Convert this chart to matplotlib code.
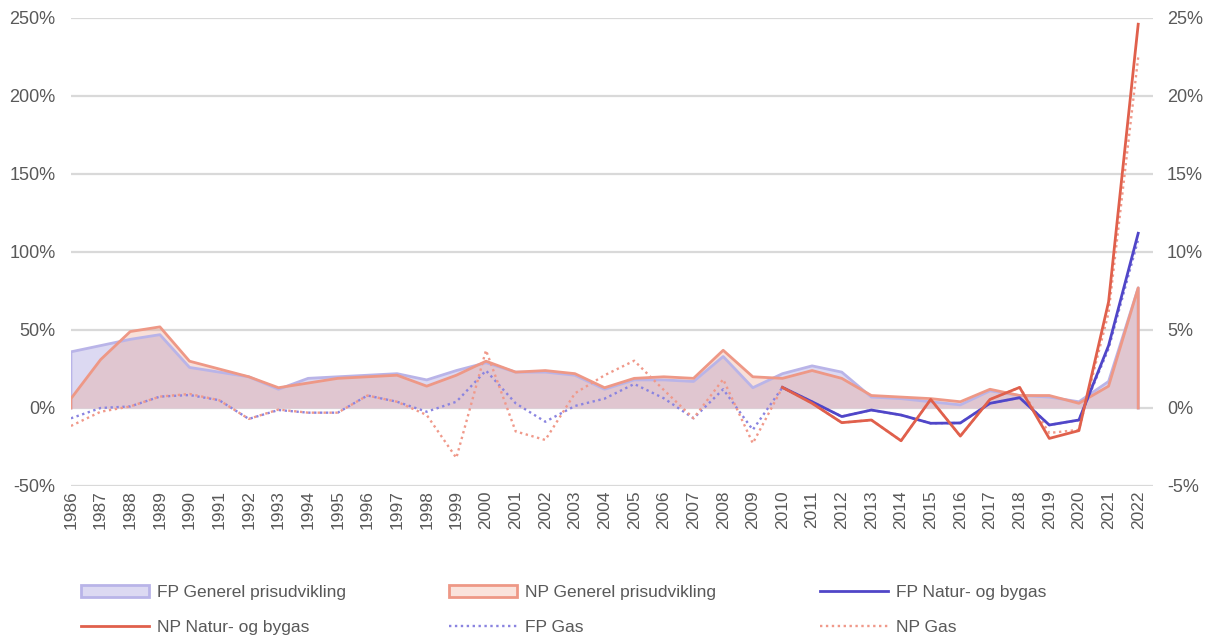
import matplotlib
matplotlib.use("Agg")
import matplotlib.pyplot as plt
from matplotlib.patches import Patch
from matplotlib.lines import Line2D
from matplotlib.ticker import FuncFormatter

plt.rcParams["font.family"] = ["Liberation Sans", "DejaVu Sans"]

years = list(range(1986, 2023))
natur_years = list(range(2010, 2023))

# general price development, right axis (%)
fp_generel = [3.6, 4.0, 4.4, 4.7, 2.6, 2.3, 2.0, 1.2, 1.9, 2.0, 2.1, 2.2, 1.8,
              2.4, 2.9, 2.3, 2.3, 2.1, 1.2, 1.8, 1.8, 1.7, 3.3, 1.3, 2.2, 2.7,
              2.3, 0.7, 0.6, 0.4, 0.2, 1.1, 0.8, 0.7, 0.4, 1.7, 7.7]
np_generel = [0.6, 3.1, 4.9, 5.2, 3.0, 2.5, 2.0, 1.3, 1.6, 1.9, 2.0, 2.1, 1.4,
              2.1, 3.0, 2.3, 2.4, 2.2, 1.3, 1.9, 2.0, 1.9, 3.7, 2.0, 1.9, 2.4,
              1.9, 0.8, 0.7, 0.6, 0.4, 1.2, 0.8, 0.8, 0.3, 1.4, 7.7]

# gas prices, left axis (%)
fp_gas = [-6.6, 0.0, 1.0, 7.3, 8.3, 5.0, -7.0, -1.3, -3.0, -3.0, 8.0, 4.0, -2.4,
          4.0, 24.0, 3.0, -8.8, 1.3, 6.0, 15.4, 6.2, -6.6, 12.0, -14.0, 13.2, 4.0,
          -5.5, -1.3, -4.5, -9.8, -9.6, 3.0, 6.6, -10.9, -7.7, 38.0, 108.0]
np_gas = [-11.5, -2.4, 1.0, 7.3, 9.0, 5.0, -7.0, -1.0, -3.0, -3.0, 8.0, 4.0, -4.5,
          -32.0, 37.0, -15.0, -20.5, 9.4, 21.0, 30.3, 11.5, -6.6, 18.4, -22.6, 13.2, 3.0,
          -9.4, -7.7, -21.0, 5.5, -18.0, 5.5, 13.2, -16.0, -14.0, 61.0, 225.0]
fp_natur = [13.2, 4.0, -5.5, -1.3, -4.5, -9.8, -9.6, 3.0, 6.6, -10.9, -7.7, 40.0, 112.0]
np_natur = [13.2, 3.0, -9.4, -7.7, -21.0, 5.5, -18.0, 5.5, 13.2, -19.5, -14.5, 68.0, 246.0]

grey = "#595959"
fp_fill, fp_edge = "#dcd9f2", "#b9b4e8"
np_fill, np_edge = "#eba18d", "#ee9886"
blue, red = "#5046c8", "#e0604c"
blue_dot, red_dot = "#8a84e0", "#f0998a"
dots = (0, (1, 1.5))

fig = plt.figure(figsize=(12.15, 6.42), dpi=100)
ax2 = fig.add_axes([0.0584, 0.243, 0.8906, 0.729])
ax = ax2.twinx()
ax.yaxis.tick_left()
ax2.yaxis.tick_right()
ax.set_zorder(ax2.get_zorder() + 1)
ax.patch.set_visible(False)

# areas on right axis
ax2.fill_between(years, 0, fp_generel, color=fp_fill, lw=0)
ax2.plot([years[0]] + years + [years[-1]], [0] + fp_generel + [0], color=fp_edge, lw=2)
ax2.fill_between(years, 0, np_generel, color=np_fill, alpha=0.33, lw=0)
ax2.plot([years[0]] + years + [years[-1]], [0] + np_generel + [0], color=np_edge, lw=2)

# lines on left axis
ax.plot(years, fp_gas, color=blue_dot, lw=1.7, ls=dots)
ax.plot(years, np_gas, color=red_dot, lw=1.7, ls=dots)
ax.plot(natur_years, fp_natur, color=blue, lw=2)
ax.plot(natur_years, np_natur, color=red, lw=2)

ax.set_ylim(-50, 250)
ax2.set_ylim(-5, 25)
ax.set_yticks(range(-50, 251, 50))
ax2.set_yticks(range(-5, 26, 5))
ax.yaxis.set_major_formatter(FuncFormatter(lambda v, p: f"{v:.0f}%"))
ax2.yaxis.set_major_formatter(FuncFormatter(lambda v, p: f"{v:.0f}%"))
ax2.set_xlim(1986, 2022.5)
ax2.set_xticks(years)
ax2.set_xticklabels([str(y) for y in years], rotation=90, fontsize=12.5, color=grey)
ax2.grid(axis="y", color="#d9d9d9", lw=1.6)
ax2.set_axisbelow(True)

for a in (ax, ax2):
    for s in a.spines.values():
        s.set_visible(False)
    a.tick_params(length=0, labelsize=13, labelcolor=grey)
ax.tick_params(axis="y", pad=11)
ax2.tick_params(axis="y", pad=10)
ax2.tick_params(axis="x", pad=3, labelsize=12.5)

columns = [
    [Patch(facecolor="#dcd9f2", edgecolor=fp_edge, lw=2),
     Line2D([], [], color=red, lw=2)],
    [Patch(facecolor="#fae3dc", edgecolor=np_edge, lw=2),
     Line2D([], [], color=blue_dot, lw=1.7, ls=dots)],
    [Line2D([], [], color=blue, lw=2),
     Line2D([], [], color=red_dot, lw=1.7, ls=dots)],
]
labels = [["FP Generel prisudvikling", "NP Natur- og bygas"],
          ["NP Generel prisudvikling", "FP Gas"],
          ["FP Natur- og bygas", "NP Gas"]]
xs = [81, 449, 820]
for handles, labs, x in zip(columns, labels, xs):
    fig.legend(handles, labs, loc="upper left", bbox_to_anchor=(x / 1215, 1 - 585 / 642),
               frameon=False, fontsize=12.5, handlelength=3.9, handletextpad=0.45,
               borderpad=0, borderaxespad=0, labelspacing=1.15, labelcolor=grey)

fig.savefig("out.png", dpi=100)
